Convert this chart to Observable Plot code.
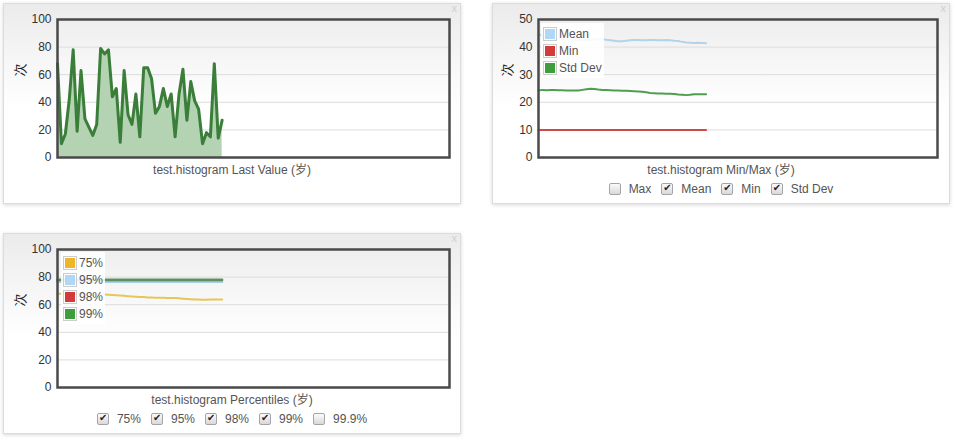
<!DOCTYPE html>
<html><head><meta charset="utf-8">
<script src="https://cdn.jsdelivr.net/npm/d3@7"></script>
<script src="https://cdn.jsdelivr.net/npm/@observablehq/plot@0.6"></script>
<style>
body{margin:0;width:955px;height:440px;background:#fff;font-family:"Liberation Sans",Arial,"Noto Sans CJK SC",sans-serif;position:relative;overflow:hidden}
.card{position:absolute;box-sizing:border-box;border:1px solid #dcdcdc;background:linear-gradient(to bottom,#ebebeb 0px,#f6f6f6 55px,#fff 105px);box-shadow:0 1px 4px rgba(0,0,0,.16)}
.card svg{position:absolute;left:0;top:0}
.close{position:absolute;right:3px;top:-2px;font-size:11px;color:#cfcfcf}
.title{position:absolute;left:0;right:0;text-align:center;font-size:12px;line-height:14px;color:#545454}
.row{position:absolute;left:0;right:0;display:flex;justify-content:center;align-items:center;font-size:12px;line-height:14px;color:#545454}
.item{display:flex;align-items:center;margin:0 5px}
.cb{width:10px;height:10px;border:1px solid #a5a5a5;border-radius:2px;background:linear-gradient(#fbfbfb,#d8d8d8);margin-right:8px;position:relative}
.cb.on::after{content:"\2714";position:absolute;left:1px;top:-2px;font-size:10px;line-height:12px;color:#222;font-family:"DejaVu Sans"}
.legend{position:absolute;background:rgba(255,255,255,.88);font-size:12px;color:#545454;padding:2px 2px 2px 2px}
.lg{display:flex;align-items:center;height:17px}
.sw{width:10px;height:10px;border:1px solid #ccc;padding:1px;margin-right:2px}
.sw div{width:100%;height:100%}
</style></head>
<body>
<script>
// ---- data ----
const lastValue = [68,10,17,42,78,19,63,28,22,16,24,79,75,78,44,50,11,63,31,24,46,15,65,65,57,32,37,50,37,46,15,46,64,27,55,41,35,10,18,15,68,14,27];

const minMaxSeries = ["Mean","Min","Std Dev"];
const meanValues = [44.8,44.0,43.5,43.2,43.0,42.9,42.8,42.8,42.7,42.7,42.6,42.6,42.5,42.6,42.7,42.8,42.8,42.7,42.5,42.3,42.1,42.1,42.3,42.5,42.6,42.6,42.5,42.5,42.6,42.6,42.5,42.5,42.6,42.5,42.3,42.2,41.9,41.7,41.6,41.5,41.6,41.5,41.4];
const minValues = [10,10,10,10,10,10,10,10,10,10,10,10,10,10,10,10,10,10,10,10,10,10,10,10,10,10,10,10,10,10,10,10,10,10,10,10,10,10,10,10,10,10,10];
const stdDevValues = [24.3,24.5,24.4,24.5,24.5,24.4,24.4,24.3,24.3,24.3,24.3,24.5,24.7,24.9,24.8,24.6,24.5,24.5,24.4,24.3,24.3,24.2,24.2,24.1,24.0,23.9,23.8,23.6,23.4,23.3,23.2,23.2,23.1,23.1,23.0,22.8,22.7,22.6,22.7,22.9,22.9,22.9,22.9];

const percentileSeries = ["75%","95%","98%","99%"];
const p75Values = [68.0,68.0,67.9,67.9,67.8,67.8,67.8,67.7,67.7,67.6,67.6,67.5,67.4,67.2,67.0,66.8,66.6,66.4,66.2,66.0,65.8,65.6,65.5,65.3,65.2,65.1,65.0,65.0,64.9,64.9,64.8,64.6,64.4,64.2,64.0,63.8,63.7,63.6,63.6,63.7,63.7,63.8,63.8];
const p95Values = [76.7,76.7,76.7,76.6,76.6,76.6,76.6,76.6,76.6,76.6,76.6,76.6,76.6,76.6,76.6,76.6,76.6,76.6,76.6,76.6,76.6,76.6,76.6,76.6,76.6,76.6,76.6,76.6,76.6,76.6,76.6,76.6,76.6,76.6,76.6,76.6,76.6,76.6,76.6,76.6,76.6,76.6,76.6];
const p98Values = [77.8,77.8,77.8,77.8,77.8,77.8,77.8,77.8,77.8,77.8,77.8,77.8,77.8,77.8,77.8,77.8,77.8,77.8,77.8,77.8,77.8,77.8,77.8,77.8,77.8,77.8,77.8,77.8,77.8,77.8,77.8,77.8,77.8,77.8,77.8,77.8,77.8,77.8,77.8,77.8,77.8,77.8,77.8];
const p99Values = [78.0,78.0,78.0,78.0,78.0,78.0,78.0,78.0,78.0,78.0,78.0,78.0,78.0,78.0,78.0,78.0,78.0,78.0,78.0,78.0,78.0,78.0,78.0,78.0,78.0,78.0,78.0,78.0,78.0,78.0,78.0,78.0,78.0,78.0,78.0,78.0,78.0,78.0,78.0,78.0,78.0,78.0,78.0];

const ticks100 = [0,20,40,60,80,100];
const ticks50 = [0,10,20,30,40,50];
const yAxisLabel = "次";
const titles = ["test.histogram Last Value (岁)","test.histogram Min/Max (岁)","test.histogram Percentiles (岁)"];
const minMaxToggles = [["Max",false],["Mean",true],["Min",true],["Std Dev",true]];
const percentileToggles = [["75%",true],["95%",true],["98%",true],["99%",true],["99.9%",false]];

// ---- helpers ----
function makePlot({width, marginLeft, marginRight, domain, ticks, marks, dx}) {
  return Plot.plot({
    width, height: 158, marginTop: 15, marginBottom: 5, marginLeft, marginRight,
    x: {domain: [0, 100], axis: null},
    y: {domain, ticks: ticks.length - 1, tickSize: 0, tickPadding: 6, label: null},
    style: {fontFamily: '"Liberation Sans", Arial, sans-serif', fontSize: "12px", color: "#333", background: "transparent", overflow: "visible"},
    marks: [
      Plot.ruleY(ticks.slice(1, -1), {stroke: "#dcdcdc", strokeWidth: 1}),
      ...marks,
      Plot.frame({stroke: "#4a4a4a", strokeWidth: 2.5}),
      Plot.text([yAxisLabel], {text: d => d, frameAnchor: "left", dx, dy: -12, rotate: -90, fontSize: 13, fill: "#222", fontFamily: "Noto Sans CJK SC"})
    ]
  });
}
function card(left, top) {
  const c = document.createElement("div");
  c.className = "card";
  Object.assign(c.style, {left: left + "px", top: top + "px", width: "458px", height: "201px"});
  const x = document.createElement("div"); x.className = "close"; x.textContent = "x"; c.appendChild(x);
  document.body.appendChild(c);
  return c;
}
function addTitle(c, text) {
  const t = document.createElement("div"); t.className = "title"; t.style.top = "159px"; t.textContent = text; c.appendChild(t);
}
function addRow(c, items) {
  const r = document.createElement("div"); r.className = "row"; r.style.top = "178px";
  for (const [label, on] of items) {
    const it = document.createElement("div"); it.className = "item";
    const b = document.createElement("span"); b.className = "cb" + (on ? " on" : "");
    const l = document.createElement("span"); l.textContent = label;
    it.append(b, l); r.appendChild(it);
  }
  c.appendChild(r);
}
function addLegend(c, left, top, names, colors) {
  const lg = document.createElement("div"); lg.className = "legend";
  lg.style.left = left + "px"; lg.style.top = top + "px";
  names.forEach((n, i) => {
    const row = document.createElement("div"); row.className = "lg";
    const sw = document.createElement("div"); sw.className = "sw";
    const inner = document.createElement("div"); inner.style.background = colors[i];
    sw.appendChild(inner);
    const t = document.createElement("span"); t.textContent = n;
    row.append(sw, t); lg.appendChild(row);
  });
  c.appendChild(lg);
}

// ---- card 1: last value ----
const c1 = card(3, 3);
c1.appendChild(makePlot({width: 456, marginLeft: 53, marginRight: 11, domain: [0, 100], ticks: ticks100, dx: -37, marks: [
  Plot.areaY(lastValue, {fill: "#b3d3b3"}),
  Plot.lineY(lastValue, {stroke: "#3a7e3a", strokeWidth: 3, strokeLinejoin: "round"})
]}));
addTitle(c1, titles[0]);

// ---- card 2: min/max ----
const c2 = card(492, 3);
c2.appendChild(makePlot({width: 456, marginLeft: 45, marginRight: 12, domain: [0, 50], ticks: ticks50, dx: -31, marks: [
  Plot.lineY(meanValues, {stroke: "#b3d3ea", strokeWidth: 2}),
  Plot.lineY(minValues, {stroke: "#d04848", strokeWidth: 2}),
  Plot.lineY(stdDevValues, {stroke: "#4f9e4f", strokeWidth: 2})
]}));
addTitle(c2, titles[1]);
addRow(c2, minMaxToggles);
addLegend(c2, 48, 19, minMaxSeries, ["#afd8f8", "#d33b3b", "#3e9e3e"]);

// ---- card 3: percentiles ----
const c3 = card(3, 233);
c3.appendChild(makePlot({width: 456, marginLeft: 53, marginRight: 11, domain: [0, 100], ticks: ticks100, dx: -37, marks: [
  Plot.lineY(p75Values, {stroke: "#e8c55a", strokeWidth: 2}),
  Plot.lineY(p95Values, {stroke: "#a9cfe6", strokeWidth: 2.5}),
  Plot.lineY(p98Values, {stroke: "#b85050", strokeWidth: 2}),
  Plot.lineY(p99Values, {stroke: "#5f8f5f", strokeWidth: 2.5})
]}));
addTitle(c3, titles[2]);
addRow(c3, percentileToggles);
addLegend(c3, 57, 18, percentileSeries, ["#f0b429", "#afd8f8", "#d33b3b", "#3e9e3e"]);
</script>
</body></html>
